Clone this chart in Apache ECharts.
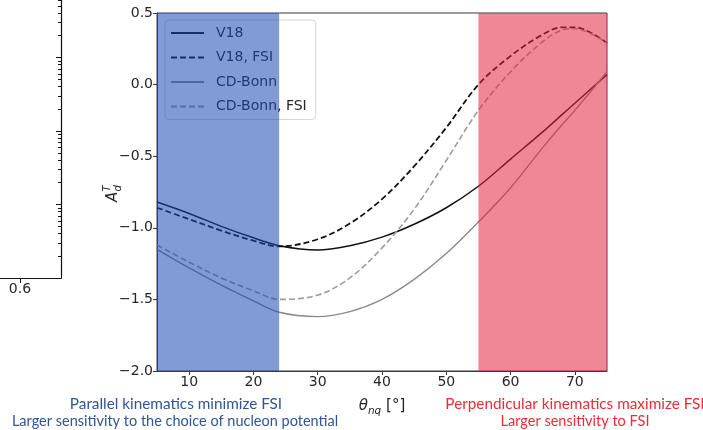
<!DOCTYPE html>
<html>
<head>
<meta charset="utf-8">
<script src="https://cdn.jsdelivr.net/npm/echarts@6/dist/echarts.min.js"></script>
<style>
  html, body { margin: 0; padding: 0; background: #fff; }
  #chart { width: 703px; height: 430px; }
</style>
</head>
<body>
<div id="chart"></div>
<script>
// Tensor analysing power A_d^T as a function of the neutron angle theta_nq
const theta      = [5, 10, 15, 20, 24, 30, 35, 40, 45, 50, 55, 60, 65, 68, 70, 75];
const v18        = [-0.82, -0.90, -0.99, -1.07, -1.125, -1.155, -1.125, -1.065, -0.975, -0.86, -0.71, -0.52, -0.33, -0.21, -0.13, 0.07];
const v18Fsi     = [-0.86, -0.94, -1.02, -1.09, -1.13, -1.08, -0.97, -0.80, -0.57, -0.30, 0.00, 0.20, 0.35, 0.40, 0.40, 0.29];
const cdBonn     = [-1.15, -1.28, -1.40, -1.51, -1.59, -1.62, -1.585, -1.50, -1.36, -1.18, -0.96, -0.72, -0.44, -0.28, -0.18, 0.09];
const cdBonnFsi  = [-1.12, -1.24, -1.35, -1.44, -1.50, -1.47, -1.35, -1.14, -0.87, -0.53, -0.18, 0.09, 0.30, 0.38, 0.39, 0.29];

const seriesNames = ['V18', 'V18, FSI', 'CD-Bonn', 'CD-Bonn, FSI'];
const xTicks = [10, 20, 30, 40, 50, 60, 70];
const yRange = [-2.0, 0.5];
const xRange = [5, 75];

// Highlighted kinematic regions (degrees)
const parallelBand = [5, 24];
const perpendicularBand = [55, 75];

// Notes printed under the regions
const parallelNotes = ['Parallel kinematics minimize FSI', 'Larger sensitivity to the choice of nucleon potential'];
const perpendicularNotes = ['Perpendicular kinematics maximize FSI', 'Larger sensitivity to FSI'];

// Neighbouring panel on the left (only its right edge is in view)
const sideXTicks = [0.6];
const sideXRange = [0.4, 0.65];
const sideDecades = [0, 1, 2, 3, 4];           // log10 of the decade values
const sideMantissas = [2, 3, 4, 5, 6, 7, 8, 9];

const sideMinor = [];
sideDecades.slice(0, -1).forEach(d => sideMantissas.forEach(m => sideMinor.push(d + Math.log10(m))));

const pair = ys => theta.map((t, i) => [t, ys[i]]);
const fmtY = v => (v < 0 ? '\u2212' : '') + Math.abs(v).toFixed(1);

const spine = '#3a3a3a';
const tickFont = { fontFamily: 'DejaVu Sans', fontSize: 14, color: '#262626' };

const lineSeries = (name, ys, color, dashed, width) => ({
  name, type: 'line', xAxisIndex: 0, yAxisIndex: 0,
  data: pair(ys), smooth: 0.35, symbol: 'none', z: 3,
  lineStyle: { color, width, type: dashed ? [6, 3] : 'solid' },
  itemStyle: { color }
});

const chart = echarts.init(document.getElementById('chart'), null, { renderer: 'canvas' });

chart.setOption({
  animation: false,
  backgroundColor: '#ffffff',
  grid: [
    { left: 157, right: 96, top: 13, bottom: 59, show: true, borderColor: spine, borderWidth: 1, outerBoundsMode: 'none' },
    { left: -144, right: 642, top: -16, bottom: 152, show: false, outerBoundsMode: 'none' }
  ],
  xAxis: [
    {
      type: 'value', gridIndex: 0, min: xRange[0], max: xRange[1],
      axisLine: { show: true, onZero: false, lineStyle: { color: spine, width: 1 } },
      axisTick: { show: true, length: 4, customValues: xTicks, lineStyle: { color: spine } },
      axisLabel: { customValues: xTicks, margin: 4, ...tickFont },
      splitLine: { show: false },
      name: '{t|\u03b8}{s|nq}{n| [\u00b0]}',
      nameLocation: 'middle', nameGap: 24,
      nameTextStyle: {
        rich: {
          t: { fontFamily: 'DejaVu Sans', fontStyle: 'italic', fontSize: 15, color: '#262626', lineHeight: 22, verticalAlign: 'middle' },
          s: { fontFamily: 'DejaVu Sans', fontStyle: 'italic', fontSize: 10.5, color: '#262626', lineHeight: 22, verticalAlign: 'bottom' },
          n: { fontFamily: 'DejaVu Sans', fontSize: 15, color: '#262626', lineHeight: 22, verticalAlign: 'middle' }
        }
      }
    },
    {
      type: 'value', gridIndex: 1, min: sideXRange[0], max: sideXRange[1],
      axisLine: { show: true, onZero: false, lineStyle: { color: '#111', width: 1.2 } },
      axisTick: { show: true, length: 5, customValues: sideXTicks, lineStyle: { color: '#111' } },
      axisLabel: { customValues: sideXTicks, margin: 4, formatter: v => v.toFixed(1), ...tickFont },
      splitLine: { show: false }
    }
  ],
  yAxis: [
    {
      type: 'value', gridIndex: 0, min: yRange[0], max: yRange[1], interval: 0.5,
      axisLine: { show: true, onZero: false, lineStyle: { color: spine, width: 1 } },
      axisTick: { show: true, length: 4, lineStyle: { color: spine } },
      axisLabel: { margin: 4, formatter: fmtY, ...tickFont },
      splitLine: { show: false }
    },
    {
      type: 'value', gridIndex: 1, position: 'right', min: 0, max: 4,
      axisLine: { show: true, onZero: false, lineStyle: { color: '#111', width: 1.2 } },
      axisTick: { show: true, inside: true, length: 5, customValues: sideDecades, lineStyle: { color: '#111' } },
      axisLabel: { show: false },
      splitLine: { show: false }
    },
    {
      type: 'value', gridIndex: 1, position: 'right', min: 0, max: 4,
      axisLine: { show: false },
      axisTick: { show: true, inside: true, length: 3, customValues: sideMinor, lineStyle: { color: '#111' } },
      axisLabel: { show: false },
      splitLine: { show: false }
    }
  ],
  legend: {
    data: seriesNames,
    orient: 'vertical', left: 165, top: 20,
    itemWidth: 33, itemHeight: 14, itemGap: 10.5,
    padding: [6, 9, 6, 5],
    backgroundColor: 'rgba(255,255,255,0.8)',
    borderColor: '#d6d6d6', borderWidth: 1, borderRadius: 4,
    itemStyle: { opacity: 0 },
    textStyle: { fontFamily: 'DejaVu Sans', fontSize: 14, color: '#262626', padding: [0, 0, 0, 7] },
    selectedMode: false
  },
  series: [
    lineSeries(seriesNames[0], v18, '#111111', false, 1.5),
    lineSeries(seriesNames[1], v18Fsi, '#111111', true, 1.8),
    lineSeries(seriesNames[2], cdBonn, '#8a8a8a', false, 1.4),
    lineSeries(seriesNames[3], cdBonnFsi, '#9c9c9c', true, 1.6),
    {
      // translucent shading drawn above curves and legend
      type: 'line', xAxisIndex: 0, yAxisIndex: 0, data: [], z: 10, silent: true,
      markArea: {
        silent: true, z: 10,
        data: [
          [{ xAxis: parallelBand[0], itemStyle: { color: 'rgba(24,73,179,0.55)' } }, { xAxis: parallelBand[1] }],
          [{ xAxis: perpendicularBand[0], itemStyle: { color: 'rgba(226,37,64,0.55)' } }, { xAxis: perpendicularBand[1] }]
        ]
      }
    }
  ],
  graphic: [
    {
      type: 'group', x: 113, y: 190, rotation: Math.PI / 2,
      children: [
        { type: 'text', x: -12, y: 0, style: { text: 'A', font: 'italic 15px "DejaVu Sans"', fill: '#262626', align: 'left', verticalAlign: 'middle' } },
        { type: 'text', x: -1.5, y: -6, style: { text: 'T', font: 'italic 10px "DejaVu Sans"', fill: '#262626', align: 'left', verticalAlign: 'middle' } },
        { type: 'text', x: -1.5, y: 5, style: { text: 'd', font: 'italic 10px "DejaVu Sans"', fill: '#262626', align: 'left', verticalAlign: 'middle' } }
      ]
    },
    { type: 'text', x: 176, y: 404, style: { text: parallelNotes[0], font: '15.3px Lato', fill: '#2f5597', align: 'center', verticalAlign: 'middle' } },
    { type: 'text', x: 175, y: 421, style: { text: parallelNotes[1], font: '14.5px Lato', fill: '#2f5597', align: 'center', verticalAlign: 'middle' } },
    { type: 'text', x: 575, y: 404, style: { text: perpendicularNotes[0], font: '15.3px Lato', fill: '#ee2b35', align: 'center', verticalAlign: 'middle' } },
    { type: 'text', x: 575, y: 421, style: { text: perpendicularNotes[1], font: '14.5px Lato', fill: '#ee2b35', align: 'center', verticalAlign: 'middle' } }
  ]
});
</script>
</body>
</html>
